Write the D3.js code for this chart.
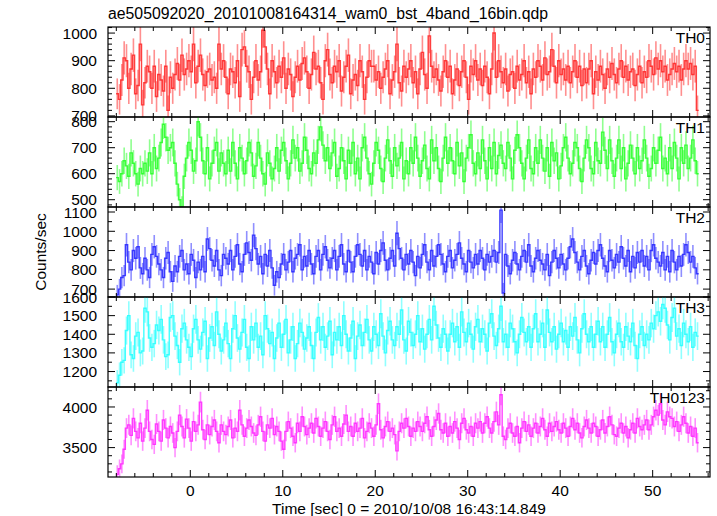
<!DOCTYPE html>
<html>
<head>
<meta charset="utf-8">
<script src="https://cdn.jsdelivr.net/npm/d3@7/dist/d3.min.js"></script>
<style>
  html, body { margin: 0; padding: 0; background: #fff; }
  svg { display: block; font-family: "Liberation Sans", Arial, Helvetica, sans-serif; }
</style>
</head>
<body>
<svg id="chart" width="717" height="516"></svg>
<script>
// ---------------- DATA ----------------
const titleText = "ae505092020_20101008164314_wam0_bst_4band_16bin.qdp";
const xLabel = "Time [sec] 0 = 2010/10/08 16:43:14.849";
const yLabel = "Counts/sec";
const panelNames = ["TH0", "TH1", "TH2", "TH3", "TH0123"];
const tStart = -7.9;      // centre of first bin (s)
const binWidth = 0.25;    // s
const xTicks = [0, 10, 20, 30, 40, 50];

const th0 = [
 780,760,830,910,900,800,870,920,780,810,960,740,
 820,880,860,800,880,770,850,830,790,880,720,840,
 800,850,890,830,920,850,870,900,860,960,820,880,
 920,850,810,860,870,830,840,800,960,870,900,840,
 780,870,860,820,900,770,940,950,880,860,760,840,
 900,830,860,1010,950,870,780,900,860,820,880,840,
 910,800,870,850,770,840,880,830,890,910,860,800,
 850,930,870,880,820,760,900,940,850,820,880,860,
 900,790,840,880,920,780,830,850,810,900,860,760,
 840,900,880,880,830,860,800,840,870,900,780,830,
 860,960,820,790,880,840,870,900,820,860,780,870,
 930,850,800,990,880,840,870,830,790,860,900,840,
 880,780,830,870,810,860,900,840,760,880,850,900,
 830,870,810,880,840,780,870,1000,840,900,860,820,
 870,790,850,860,800,880,830,850,900,820,860,780,
 870,840,900,880,830,910,850,860,940,880,820,900,
 850,870,830,880,820,860,900,840,880,810,870,820,
 870,900,780,860,830,880,850,800,870,840,890,850,
 820,870,900,840,880,830,860,870,810,850,880,820,
 860,840,900,880,850,910,870,900,860,880,830,850,
 870,890,860,880,830,870,900,870,890,850,880,720
];
const th1 = [
 585,570,600,650,630,590,680,640,600,560,620,600,
 640,610,680,600,700,620,660,720,790,740,690,700,
 720,640,560,500,470,590,660,720,690,610,650,800,
 740,650,600,700,580,640,690,720,610,680,640,600,
 690,610,720,640,580,700,660,600,650,720,680,590,
 630,720,660,600,560,680,640,580,620,700,610,690,
 720,650,580,640,730,660,700,610,640,740,690,620,
 600,680,640,730,780,710,650,700,620,680,720,590,
 620,700,650,580,690,640,720,600,660,580,700,740,
 660,600,560,640,720,690,620,570,660,730,650,590,
 700,630,660,720,580,650,600,700,640,740,660,590,
 650,710,620,580,730,650,700,620,570,660,740,640,
 700,650,600,720,630,680,570,660,700,750,640,600,
 680,620,730,650,580,700,620,720,600,670,710,640,
 620,720,660,580,690,750,700,640,580,660,730,620,
 600,700,640,730,660,610,700,590,720,650,680,580,
 630,700,740,660,600,640,720,700,620,570,660,730,
 700,620,600,720,650,640,760,690,620,730,650,590,
 660,730,620,700,580,640,710,660,600,700,620,650,
 730,660,590,620,700,640,690,740,620,660,600,700,
 620,720,660,580,700,640,710,620,660,730,650,600
];
const th2 = [
 670,700,760,770,930,840,800,900,860,920,810,780,
 860,800,760,880,920,870,830,800,760,860,890,790,
 740,820,790,870,900,800,830,780,880,850,760,840,
 800,870,790,960,910,850,820,900,800,770,880,860,
 830,900,800,870,930,830,790,880,940,890,850,980,
 910,830,870,780,880,820,900,810,720,790,760,830,
 880,800,840,900,790,860,880,930,800,870,820,900,
 830,780,870,900,800,880,920,850,810,860,900,800,
 870,930,830,790,900,840,790,870,930,880,820,900,
 800,870,840,780,890,830,900,940,850,800,860,900,
 820,990,910,860,800,880,830,900,840,770,870,810,
 880,930,840,800,900,820,870,930,880,830,790,870,
 900,810,850,880,940,860,830,790,900,840,810,880,
 830,900,860,800,880,840,870,900,840,890,1110,680,
 880,820,780,850,890,830,800,870,900,840,930,820,
 790,860,900,850,830,800,880,770,840,900,860,810,
 880,830,800,860,920,960,890,840,800,870,900,820,
 780,850,890,830,900,930,860,820,790,900,850,810,
 880,840,920,860,820,900,790,870,810,890,840,900,
 820,870,800,900,930,860,840,820,890,800,870,790,
 900,840,800,870,820,880,930,890,840,870,810,780
];
const th3 = [
 1140,1180,1250,1260,1420,1500,1290,1270,1390,1410,1300,1310,
 1540,1520,1380,1330,1350,1450,1420,1480,1370,1280,1290,1490,
 1500,1390,1340,1250,1430,1460,1370,1330,1280,1430,1480,1370,
 1320,1410,1470,1270,1380,1440,1340,1520,1400,1310,1370,1460,
 1350,1270,1430,1500,1380,1320,1410,1480,1330,1270,1440,1370,
 1460,1330,1390,1290,1500,1430,1350,1410,1270,1380,1460,1330,
 1400,1480,1300,1370,1440,1270,1350,1460,1410,1320,1380,1440,
 1340,1270,1410,1490,1370,1440,1330,1390,1470,1290,1410,1370,
 1440,1340,1500,1400,1310,1380,1470,1270,1390,1450,1340,1410,
 1480,1370,1310,1440,1400,1340,1510,1390,1300,1420,1470,1370,
 1340,1440,1400,1530,1370,1310,1470,1410,1340,1400,1500,1360,
 1430,1320,1400,1480,1370,1550,1450,1380,1330,1430,1400,1310,
 1400,1460,1360,1440,1330,1520,1410,1360,1460,1400,1320,1440,
 1480,1360,1430,1400,1310,1460,1510,1390,1340,1430,1550,1360,
 1400,1330,1460,1430,1360,1300,1400,1490,1410,1360,1440,1330,
 1430,1510,1360,1400,1460,1330,1530,1410,1360,1440,1320,1400,
 1460,1360,1420,1330,1440,1390,1490,1370,1300,1430,1510,1400,
 1360,1440,1330,1400,1470,1360,1440,1330,1400,1490,1360,1300,
 1400,1460,1360,1330,1440,1390,1360,1460,1340,1270,1400,1440,
 1340,1400,1370,1460,1430,1500,1520,1470,1560,1540,1450,1370,
 1490,1540,1390,1430,1340,1460,1400,1360,1440,1330,1410,1390
];
const th0123 = [
 3170,3240,3300,3480,3740,3780,3650,3860,3700,3620,3800,3580,
 3740,3960,3700,3600,3540,3790,3700,3580,3840,3740,3620,3760,
 3680,3500,3700,3900,3760,3620,3850,3740,3580,3820,3700,3780,
 4060,3720,3600,3780,3660,3760,3840,3700,3560,3780,3700,3660,
 3760,3840,3620,3740,3700,3960,3780,3640,3740,3840,3760,3680,
 3650,3780,3880,3700,3580,3780,3740,3860,3660,3760,3700,3580,
 3480,3700,3820,3740,3640,3560,3800,3700,3880,3760,3660,3740,
 3800,3680,3860,3760,3640,3740,3820,3700,3600,3780,3880,3700,
 3740,3640,3790,3900,3700,3760,3640,3800,3700,3740,3860,3620,
 3700,3800,3740,3640,3780,4040,3720,3620,3760,3820,3700,3740,
 3660,3460,3700,3800,3740,3860,3760,3640,3740,3700,3820,3760,
 3700,3800,3880,3720,3640,3760,3840,3920,3720,3680,3800,3640,
 3760,3680,3820,3740,3600,3800,3860,3720,3680,3760,3640,3800,
 3740,3820,3680,3800,3880,3740,3680,3820,3940,3780,4150,3640,
 3600,3740,3800,3680,3640,3760,3560,3740,3820,3700,3780,3640,
 3740,3800,3680,3760,3860,3720,3640,3800,3700,3760,3820,3720,
 3680,3800,3740,3640,3760,3860,3720,3800,3680,3620,3760,3840,
 3740,3680,3800,3760,3640,3720,3840,3680,3760,3880,3780,3660,
 3640,3740,3800,3680,3760,3620,3720,3800,3680,3860,3760,3720,
 3780,3840,3720,3780,3880,3960,3900,4040,3840,3780,3940,3880,
 3860,3760,3820,3700,3780,3880,3800,3680,3760,3640,3740,3560
];

const seriesList = [th0, th1, th2, th3, th0123];
const colors = ["#ff2020", "#20ff20", "#2020ff", "#20ffff", "#ff20ff"];
const yDomains = [[696, 1022], [472, 818], [659, 1126], [1117, 1600], [3138, 4246]];
const yMajor = [[700, 800, 900, 1000], [500, 600, 700, 800], [700, 800, 900, 1000, 1100], [1200, 1300, 1400, 1500, 1600], [3500, 4000]];
const yMinorStep = [20, 20, 50, 50, 100];

// ---------------- LAYOUT ----------------
const svg = d3.select("#chart");
const left = 108, right = 710, top0 = 27, panelH = 90;
const nP = seriesList.length;
const bottom = top0 + nP * panelH;

const x = d3.scaleLinear().domain([-8.9, 56.2]).range([left, right]);

svg.append("text")
  .attr("x", left).attr("y", 19)
  .attr("font-size", 15.8).attr("fill", "#000")
  .text(titleText);

const defs = svg.append("defs");

seriesList.forEach((data, p) => {
  const pTop = top0 + p * panelH, pBot = pTop + panelH;
  const y = d3.scaleLinear().domain(yDomains[p]).range([pBot, pTop]);
  const g = svg.append("g");

  defs.append("clipPath").attr("id", "clip" + p)
    .append("rect").attr("x", left).attr("y", pTop).attr("width", right - left).attr("height", panelH);

  const dg = g.append("g").attr("clip-path", `url(#clip${p})`);
  const pts = data.map((v, i) => ({ t: tStart + i * binWidth, v: v, e: Math.sqrt(v / binWidth) }));

  // vertical error bars (lighter)
  dg.selectAll("line.ey").data(pts).enter().append("line")
    .attr("x1", d => x(d.t)).attr("x2", d => x(d.t))
    .attr("y1", d => y(d.v - d.e)).attr("y2", d => y(d.v + d.e))
    .attr("stroke", colors[p]).attr("stroke-width", 1.6).attr("stroke-opacity", 0.5);

  // histogram step line
  const stepPts = [];
  pts.forEach(d => {
    stepPts.push([d.t - binWidth / 2, d.v]);
    stepPts.push([d.t + binWidth / 2, d.v]);
  });
  const line = d3.line().x(d => x(d[0])).y(d => y(d[1]));
  dg.append("path").attr("d", line(stepPts))
    .attr("fill", "none").attr("stroke", colors[p]).attr("stroke-width", 1.4).attr("stroke-opacity", 0.85);

  // frame
  g.append("rect").attr("x", left).attr("y", pTop).attr("width", right - left).attr("height", panelH)
    .attr("fill", "none").attr("stroke", "#000").attr("stroke-width", 1.2);

  // y ticks (left & right, inward)
  const minor = d3.range(Math.ceil(yDomains[p][0] / yMinorStep[p]) * yMinorStep[p], yDomains[p][1] + 0.001, yMinorStep[p]);
  const majorSet = new Set(yMajor[p]);
  const yt = g.append("g");
  minor.forEach(v => {
    const len = majorSet.has(v) ? 7 : 4;
    const yy = y(v);
    if (yy < pTop - 0.1 || yy > pBot + 0.1) return;
    yt.append("line").attr("x1", left).attr("x2", left + len).attr("y1", yy).attr("y2", yy).attr("stroke", "#000").attr("stroke-width", 1);
    yt.append("line").attr("x1", right).attr("x2", right - len).attr("y1", yy).attr("y2", yy).attr("stroke", "#000").attr("stroke-width", 1);
  });
  yMajor[p].forEach(v => {
    g.append("text").attr("x", 97).attr("y", y(v)).attr("dy", "0.36em")
      .attr("text-anchor", "end").attr("font-size", 15.5).attr("fill", "#000").text(v);
  });

  // x ticks top & bottom, inward
  const xt = d3.range(-8, 57, 2);
  xt.forEach(t => {
    const len = (t % 10 === 0) ? 7 : 4;
    const xx = x(t);
    g.append("line").attr("x1", xx).attr("x2", xx).attr("y1", pTop).attr("y2", pTop + len).attr("stroke", "#000").attr("stroke-width", 1);
    g.append("line").attr("x1", xx).attr("x2", xx).attr("y1", pBot).attr("y2", pBot - len).attr("stroke", "#000").attr("stroke-width", 1);
  });

  // panel name
  g.append("text").attr("x", 705).attr("y", pTop + 16)
    .attr("text-anchor", "end").attr("font-size", 15.5).attr("fill", "#000").text(panelNames[p]);
});

// x tick labels
xTicks.forEach(t => {
  svg.append("text").attr("x", x(t)).attr("y", bottom + 19)
    .attr("text-anchor", "middle").attr("font-size", 15.5).attr("fill", "#000").text(t);
});
svg.append("text").attr("x", (left + right) / 2).attr("y", bottom + 37)
  .attr("text-anchor", "middle").attr("font-size", 15.5).attr("fill", "#000").text(xLabel);
svg.append("text")
  .attr("transform", `translate(46, ${(top0 + bottom) / 2}) rotate(-90)`)
  .attr("text-anchor", "middle").attr("font-size", 15.5).attr("fill", "#000").text(yLabel);
</script>
</body>
</html>
